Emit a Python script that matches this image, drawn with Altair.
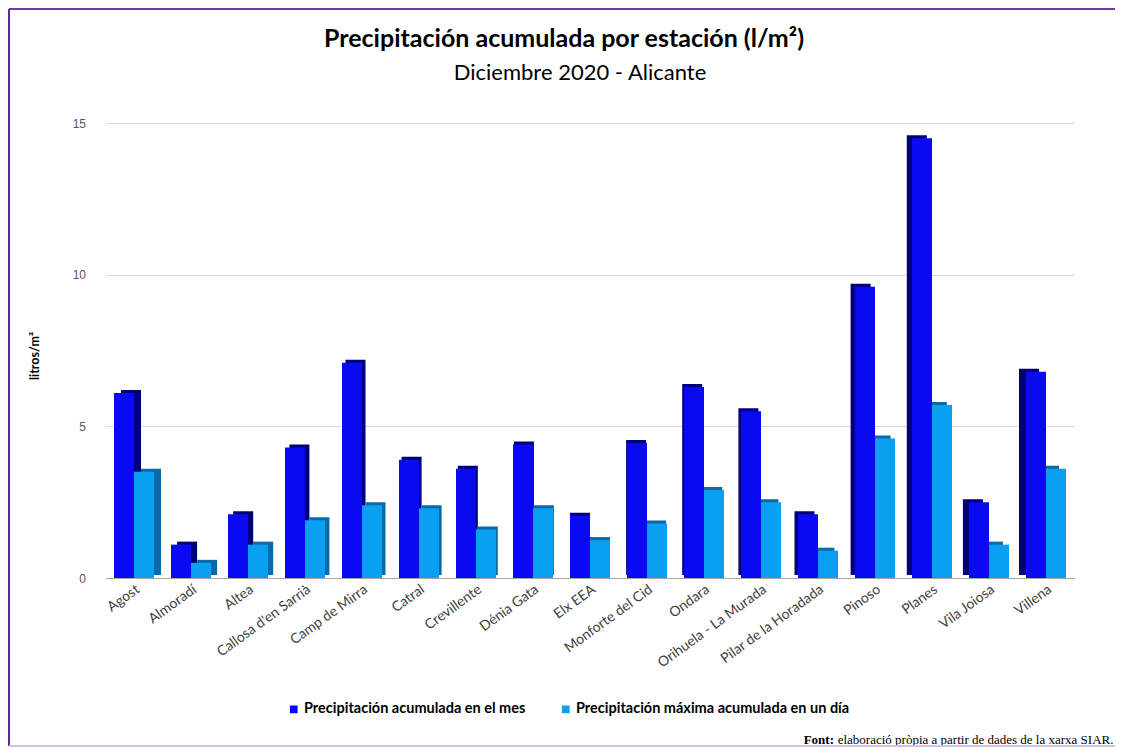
import altair as alt
import pandas as pd

stations = ["Agost", "Almoradí", "Altea", "Callosa d'en Sarrià", "Camp de Mirra", "Catral",
            "Crevillente", "Dénia Gata", "Elx EEA", "Monforte del Cid", "Ondara",
            "Orihuela - La Murada", "Pilar de la Horadada", "Pinoso", "Planes", "Vila Joiosa", "Villena"]
mes = [6.1, 1.1, 2.1, 4.3, 7.1, 3.9, 3.6, 4.4, 2.05, 4.45, 6.3, 5.5, 2.1, 9.6, 14.5, 2.5, 6.8]
max_dia = [3.5, 0.5, 1.1, 1.9, 2.4, 2.3, 1.6, 2.3, 1.25, 1.8, 2.9, 2.5, 0.9, 4.6, 5.7, 1.1, 3.6]
series = ["Precipitación acumulada en el mes", "Precipitación máxima acumulada en un día"]
y_ticks = [0, 5, 10, 15]

title_text = "Precipitación acumulada por estación (l/m²)"
subtitle_text = "Diciembre 2020 - Alicante"
ytitle_text = "litros/m²"
footer_bold = "Font:"
footer_rest = "elaboració pròpia a partir de dades de la xarxa SIAR."

rows = []
for s, a, b in zip(stations, mes, max_dia):
    rows.append({"station": s, "series": series[0], "value": a})
    rows.append({"station": s, "series": series[1], "value": b})
df = pd.DataFrame(rows)

W, H = 969, 455
PAD = {"left": 97.5, "top": 115, "right": 40.5, "bottom": 169}
BW = 20

front_colors = ["#0a0af2", "#0aa0f2"]
side_colors = ["#00007a", "#0a6aa8"]

x_enc = alt.X("station:N", sort=stations,
              scale=alt.Scale(paddingInner=0.28, paddingOuter=0.14),
              axis=alt.Axis(title=None, labelAngle=-36, labelFont="Lato", labelFontSize=14,
                            labelColor="#404040", domainColor="#a6a6a6", ticks=False,
                            labelPadding=4, grid=False, labelLimit=300))
y_enc = alt.Y("value:Q", scale=alt.Scale(domain=[0, 15], nice=False),
              axis=alt.Axis(values=y_ticks, title=None, grid=True, gridColor="#d9d9d9",
                            domain=False, ticks=False, labelPadding=20, labelFont="Liberation Sans",
                            labelFontSize=12, labelColor="#595959"))
color_enc = alt.Color("series:N", sort=series, scale=alt.Scale(domain=series, range=front_colors),
                      legend=alt.Legend(title=None, orient="none", legendX=181, legendY=579,
                                        direction="horizontal", symbolType="square", symbolSize=60,
                                        symbolStrokeWidth=0, labelFont="Lato", labelFontWeight="bold",
                                        labelFontSize=14.5, labelColor="#000000", labelOffset=3,
                                        columnPadding=33, labelLimit=400, padding=0))

base = alt.Chart(df).encode(x=x_enc, y=y_enc)
layers = []
offsets = [-BW / 2, BW / 2]
n = len(stations)
mid = (n - 1) / 2
# perspective side faces: visible to the right on the left, to the left on the right
for k, st in enumerate(stations):
    shift = round(7 * (mid - k) / mid, 1)
    for i, s in enumerate(series):
        sub_base = base.transform_filter((alt.datum.series == s) & (alt.datum.station == st))
        layers.append(sub_base.mark_bar(width=BW, xOffset=offsets[i] + shift, yOffset=-3,
                                        color=side_colors[i]))
for i, s in enumerate(series):
    sub_base = base.transform_filter(alt.datum.series == s)
    layers.append(sub_base.mark_bar(width=BW, xOffset=offsets[i]).encode(color=color_enc))

title = alt.Chart(pd.DataFrame({"t": [title_text]})).mark_text(
    font="Lato", fontSize=25, fontWeight="bold", color="#000000",
    align="center", baseline="middle").encode(x=alt.value(458.5), y=alt.value(-84), text="t:N")
sub = alt.Chart(pd.DataFrame({"t": [subtitle_text]})).mark_text(
    font="Lato", fontSize=22, color="#000000", align="center", baseline="middle").encode(
    x=alt.value(474.5), y=alt.value(-50), text="t:N")
ytitle = alt.Chart(pd.DataFrame({"t": [ytitle_text]})).mark_text(
    font="Lato", fontSize=12.5, fontWeight="bold", color="#000000", angle=270,
    align="center", baseline="middle").encode(
    x=alt.value(-70.5), y=alt.value(233), text="t:N")
fb = alt.Chart(pd.DataFrame({"t": [footer_bold]})).mark_text(
    font="Liberation Serif", fontSize=13, fontWeight="bold", color="#000000",
    align="right", baseline="middle").encode(x=alt.value(728.5), y=alt.value(617), text="t:N")
fr = alt.Chart(pd.DataFrame({"t": [footer_rest]})).mark_text(
    font="Liberation Serif", fontSize=13, color="#000000",
    align="right", baseline="middle").encode(x=alt.value(1008), y=alt.value(617), text="t:N")

b1 = pd.DataFrame({"k": [1]})
left_line = alt.Chart(b1).mark_rule(color="#5a2d8c", strokeWidth=2).encode(
    x=alt.value(-96.5), y=alt.value(-114), y2=alt.value(623))
top_line = alt.Chart(b1).mark_rule(color="#6a3f9c", strokeWidth=2).encode(
    x=alt.value(-96.5), x2=alt.value(1009.5), y=alt.value(-114))
bottom_line = alt.Chart(b1).mark_rule(color="#d4c4e4", strokeWidth=2).encode(
    x=alt.value(-96.5), x2=alt.value(1009.5), y=alt.value(623))

chart = alt.layer(*layers, title, sub, ytitle, fb, fr, left_line, top_line, bottom_line).properties(
    width=W, height=H, padding=PAD, autosize=alt.AutoSizeParams(type="none"), background="#ffffff"
).configure_view(stroke=None)

chart.save("out.html", embed_options={"renderer": "svg", "actions": False})
